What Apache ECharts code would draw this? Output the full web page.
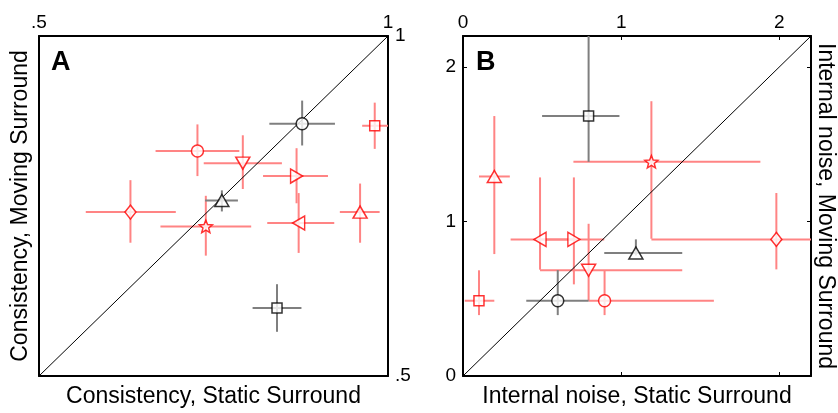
<!DOCTYPE html>
<html>
<head>
  <meta charset="UTF-8">
  <title>consistency</title>
  <script src="https://cdn.jsdelivr.net/npm/echarts@6/dist/echarts.min.js"></script>
  <style>
    * { padding: 0; margin: 0; }
    body { background: #fff; }
    #box { width: 838px; height: 413px; }
  </style>
</head>
<body>
  <div id="box"></div>
  <script>
    // observers: 8 red ones, 3 gray ones (same order in both panels)
    var observers = ['O1', 'O2', 'O3', 'O4', 'O5', 'O6', 'O7', 'O8', 'O9', 'O10', 'O11']

    // panel A: consistency
    var consStatic = [0.727, 0.981, 0.739, 0.960, 0.792, 0.872, 0.869, 0.631, 0.877, 0.841, 0.762]
    var consMoving = [0.831, 0.868, 0.720, 0.741, 0.813, 0.725, 0.794, 0.741, 0.871, 0.600, 0.758]
    var consStaticLo = [0.667, 0.963, 0.674, 0.931, 0.736, 0.827, 0.821, 0.567, 0.830, 0.806, 0.738]
    var consStaticHi = [0.787, 1.000, 0.804, 0.988, 0.848, 0.923, 0.914, 0.696, 0.924, 0.876, 0.785]
    var consMovingLo = [0.794, 0.834, 0.677, 0.696, 0.775, 0.681, 0.754, 0.696, 0.839, 0.565, 0.742]
    var consMovingHi = [0.870, 0.902, 0.765, 0.783, 0.854, 0.769, 0.835, 0.788, 0.905, 0.635, 0.773]

    // panel B: internal noise
    var noiseStatic = [0.895, 0.101, 1.191, 0.198, 0.794, 0.487, 0.701, 1.981, 0.599, 0.794, 1.093]
    var noiseMoving = [0.487, 0.487, 1.386, 1.291, 0.684, 0.884, 0.884, 0.884, 0.487, 1.682, 0.796]
    var noiseStaticLo = [0.794, 0.011, 0.698, 0.101, 0.487, 0.301, 0.487, 1.191, 0.400, 0.500, 0.893]
    var noiseStaticHi = [1.586, 0.198, 1.880, 0.296, 1.386, 0.701, 0.893, 2.400, 0.794, 0.989, 1.386]
    var noiseMovingLo = [0.394, 0.394, 0.888, 0.789, 0.487, 0.688, 0.593, 0.690, 0.394, 1.386, 0.780]
    var noiseMovingHi = [0.685, 0.684, 1.778, 1.682, 0.985, 1.285, 1.285, 1.184, 0.685, 2.400, 0.884]

    var diagA = [[0.5, 0.5], [1, 1]]
    var diagB = [[0, 0], [2.2, 2.2]]

    var RED = '#ff0000', RED_BAR = '#ff8484', BLACK = '#000000', GRAY_BAR = '#7f7f7f'
    var star = 'path://M0,-10 L2.6,-3.6 9.5,-3.1 4.2,1.4 5.9,8.1 0,4.4 -5.9,8.1 -4.2,1.4 -9.5,-3.1 -2.6,-3.6Z'
    var markers = {
      O1: { symbol: 'circle', size: 12, rot: 0, c: RED },
      O2: { symbol: 'rect', size: 10, rot: 0, c: RED },
      O3: { symbol: star, size: 13, rot: 0, c: RED },
      O4: { symbol: 'triangle', size: [14, 12], rot: 0, c: RED },
      O5: { symbol: 'triangle', size: [14, 12], rot: 180, c: RED },
      O6: { symbol: 'triangle', size: [14, 12], rot: 90, c: RED },
      O7: { symbol: 'triangle', size: [14, 12], rot: -90, c: RED },
      O8: { symbol: 'diamond', size: [11, 14], rot: 0, c: RED },
      O9: { symbol: 'circle', size: 12, rot: 0, c: BLACK },
      O10: { symbol: 'rect', size: 10, rot: 0, c: BLACK },
      O11: { symbol: 'triangle', size: [14, 12], rot: 0, c: BLACK }
    }

    var FONT = 'Liberation Sans, Arial, Helvetica, sans-serif'

    function tickFmt(v) {
      if (Math.abs(v - Math.round(v * 2) / 2) > 1e-6) return ''
      return String(+v.toFixed(2)).replace(/^0\./, '.')
    }
    function intFmt(v) {
      return Math.abs(v - Math.round(v)) < 1e-6 ? String(Math.round(v)) : ''
    }

    function axis(grid, pos, opt) {
      var a = {
        type: 'value', gridIndex: grid, position: pos,
        axisLine: { show: true, onZero: false, lineStyle: { color: '#000', width: 2 } },
        splitLine: { show: false },
        axisTick: { show: false },
        axisLabel: { show: false, color: '#000', fontSize: 19, fontFamily: FONT, margin: 7 },
        nameTextStyle: { color: '#000', fontSize: 23, fontFamily: FONT },
        nameLocation: 'middle'
      }
      for (var k in opt) a[k] = opt[k]
      return a
    }

    function bars(xs, ys, xlo, xhi, ylo, yhi, from, to) {
      var d = []
      for (var i = from; i < to; i++) d.push([xs[i], ys[i], xlo[i], xhi[i], ylo[i], yhi[i]])
      return d
    }

    function barSeries(grid, data, color) {
      return {
        type: 'custom', xAxisIndex: grid * 2, yAxisIndex: grid * 2, clip: true,
        encode: { x: 0, y: 1 }, data: data, z: 2,
        renderItem: function (params, api) {
          var x0 = api.coord([api.value(2), api.value(1)])
          var x1 = api.coord([api.value(3), api.value(1)])
          var y0 = api.coord([api.value(0), api.value(4)])
          var y1 = api.coord([api.value(0), api.value(5)])
          var st = { stroke: color, lineWidth: 2 }
          return {
            type: 'group', children: [
              { type: 'line', shape: { x1: x0[0], y1: x0[1], x2: x1[0], y2: x1[1] }, style: st },
              { type: 'line', shape: { x1: y0[0], y1: y0[1], x2: y1[0], y2: y1[1] }, style: st }
            ]
          }
        }
      }
    }

    function markerSeries(grid, xs, ys) {
      var d = observers.map(function (o, i) {
        var m = markers[o]
        return {
          value: [xs[i], ys[i]], symbol: m.symbol, symbolSize: m.size, symbolRotate: m.rot,
          symbolKeepAspect: true,
          itemStyle: { color: '#fff', borderColor: m.c, borderWidth: 1.5 }
        }
      })
      return { type: 'scatter', xAxisIndex: grid * 2, yAxisIndex: grid * 2, data: d, z: 5, silent: true }
    }

    function diagSeries(grid, d) {
      return {
        type: 'line', xAxisIndex: grid * 2, yAxisIndex: grid * 2, data: d, symbol: 'none', z: 3,
        lineStyle: { color: '#000', width: 1 }, silent: true
      }
    }

    var ticks = { show: true, inside: true, length: 4, lineStyle: { color: '#000' } }

    var mCharts = echarts.init(document.getElementById('box'))
    var option = {
      animation: false,
      grid: [
        { left: 39, top: 36, width: 349, height: 347 },
        { left: 463, top: 36, width: 350, height: 347 }
      ],
      xAxis: [
        axis(0, 'top', { min: 0.5, max: 1, interval: 0.5,
          axisLabel: { show: true, color: '#000', fontSize: 19, fontFamily: FONT, margin: 4, formatter: tickFmt } }),
        axis(0, 'bottom', { min: 0.5, max: 1, interval: 0.5, name: 'Consistency, Static Surround', nameGap: 9 }),
        axis(1, 'top', { min: 0, max: 2.2, interval: 1, axisTick: ticks,
          axisLabel: { show: true, color: '#000', fontSize: 19, fontFamily: FONT, margin: 4, formatter: intFmt } }),
        axis(1, 'bottom', { min: 0, max: 2.2, interval: 1, name: 'Internal noise, Static Surround', nameGap: 9,
          axisTick: ticks })
      ],
      yAxis: [
        axis(0, 'left', { min: 0.5, max: 1, interval: 0.5, name: 'Consistency, Moving Surround', nameGap: 7 }),
        axis(0, 'right', { min: 0.5, max: 1, interval: 0.5,
          axisLabel: { show: true, color: '#000', fontSize: 19, fontFamily: FONT, margin: 7, formatter: tickFmt } }),
        axis(1, 'left', { min: 0, max: 2.2, interval: 1, axisTick: ticks,
          axisLabel: { show: true, color: '#000', fontSize: 19, fontFamily: FONT, margin: 7, formatter: intFmt } }),
        axis(1, 'right', { min: 0, max: 2.2, interval: 1, name: 'Internal noise, Moving Surround', nameGap: 3,
          nameRotate: -90, axisTick: ticks })
      ],
      graphic: [
        { type: 'text', left: 51, top: 49, style: { text: 'A', fill: '#000', font: 'bold 27px ' + FONT } },
        { type: 'text', left: 476, top: 49, style: { text: 'B', fill: '#000', font: 'bold 27px ' + FONT } }
      ],
      series: [
        barSeries(0, bars(consStatic, consMoving, consStaticLo, consStaticHi, consMovingLo, consMovingHi, 0, 8), RED_BAR),
        barSeries(0, bars(consStatic, consMoving, consStaticLo, consStaticHi, consMovingLo, consMovingHi, 8, 11), GRAY_BAR),
        diagSeries(0, diagA),
        markerSeries(0, consStatic, consMoving),
        barSeries(1, bars(noiseStatic, noiseMoving, noiseStaticLo, noiseStaticHi, noiseMovingLo, noiseMovingHi, 0, 8), RED_BAR),
        barSeries(1, bars(noiseStatic, noiseMoving, noiseStaticLo, noiseStaticHi, noiseMovingLo, noiseMovingHi, 8, 11), GRAY_BAR),
        diagSeries(1, diagB),
        markerSeries(1, noiseStatic, noiseMoving)
      ]
    }
    mCharts.setOption(option)
  </script>
</body>
</html>
